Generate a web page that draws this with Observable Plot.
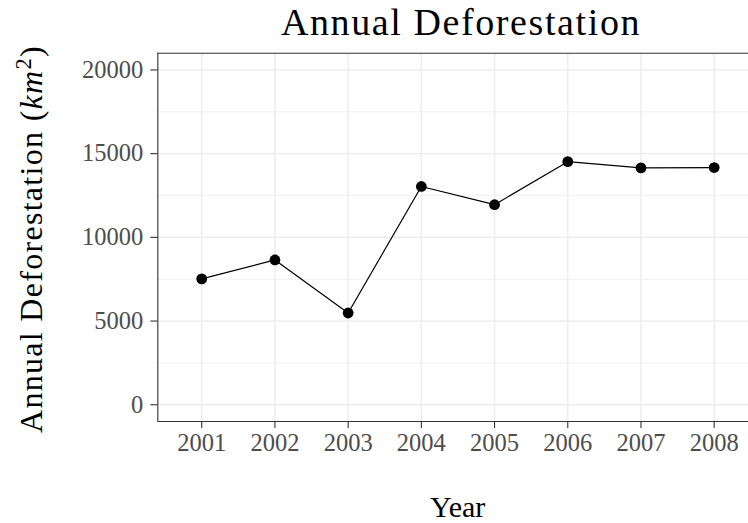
<!DOCTYPE html>
<html>
<head>
<meta charset="utf-8">
<script src="https://cdn.jsdelivr.net/npm/d3@7"></script>
<script src="https://cdn.jsdelivr.net/npm/@observablehq/plot@0.6"></script>
<style>
  html, body { margin: 0; padding: 0; background: #fff; overflow: hidden; }
  #wrap { position: relative; width: 748px; height: 523px; font-family: "Liberation Serif", serif; color: #000; }
  #title { position: absolute; top: 1px; left: 461px; transform: translateX(-50%); white-space: nowrap;
           font-size: 38px; line-height: 42px; letter-spacing: 1.6px; }
  #chart { position: absolute; top: 50px; left: 0; }
  #xlab { position: absolute; top: 491.5px; left: 457.7px; transform: translateX(-50%); white-space: nowrap;
          font-size: 30px; line-height: 30px; }
  #ylab { position: absolute; left: 31px; top: 239px; transform: translate(-50%, -50%) rotate(-90deg);
          white-space: nowrap; font-size: 32px; line-height: 32px; letter-spacing: 1.3px; }
  #ylab sup { font-size: 0.7em; line-height: 0; vertical-align: 0.5em; }
</style>
</head>
<body>
<div id="wrap">
  <div id="title">Annual Deforestation</div>
  <div id="chart"></div>
  <div id="ylab">Annual Deforestation (<i>km</i><sup>2</sup>)</div>
  <div id="xlab">Year</div>
</div>
<script>
// ---- data ----
const years = [2001, 2002, 2003, 2004, 2005, 2006, 2007, 2008];
const deforestation = [7520, 8650, 5480, 13040, 11950, 14520, 14150, 14170];
const yMajorTicks = [0, 5000, 10000, 15000, 20000];
const yMinorTicks = [2500, 7500, 12500, 17500];
const xDomain = [2000.4, 2008.6];
const yDomain = [-1000, 21000];

const data = years.map((year, i) => ({year, value: deforestation[i]}));

const W = 748, H = 473;
const mLeft = 157.3, mTop = 2.7, mBottom = 102;
const border = "#333333", tickText = "#4D4D4D", grid = "#EBEBEB";

const chart = Plot.plot({
  width: W,
  height: H,
  marginLeft: mLeft,
  marginRight: 0,
  marginTop: mTop,
  marginBottom: mBottom,
  style: {fontFamily: "'Liberation Serif', serif", fontSize: "24.5px", background: "white", overflow: "visible"},
  x: {domain: xDomain, range: [mLeft, 757.6], label: null},
  y: {domain: yDomain, range: [H - mBottom, mTop], label: null},
  marks: [
    Plot.gridY(yMinorTicks, {stroke: grid, strokeOpacity: 1, strokeWidth: 0.7}),
    Plot.gridY(yMajorTicks, {stroke: grid, strokeOpacity: 1, strokeWidth: 1.3}),
    Plot.gridX(years, {stroke: grid, strokeOpacity: 1, strokeWidth: 1.3}),
    Plot.line(data, {x: "year", y: "value", stroke: "black", strokeWidth: 1.2}),
    Plot.dot(data, {x: "year", y: "value", r: 5.4, fill: "black", stroke: "none"}),
    Plot.ruleY([yDomain[0], yDomain[1]], {stroke: border, strokeWidth: 1.1}),
    Plot.ruleX([xDomain[0]], {stroke: border, strokeWidth: 1.1}),
    Plot.axisX(years, {tickSize: 7, tickPadding: 5.5, tickFormat: d => String(d), stroke: border, fill: tickText, strokeWidth: 1.1, fontSize: 24.5, label: null}),
    Plot.axisY(yMajorTicks, {tickSize: 7, tickPadding: 7.5, tickFormat: d => String(d), stroke: border, fill: tickText, strokeWidth: 1.1, fontSize: 24.5, label: null})
  ]
});
document.getElementById("chart").appendChild(chart);
</script>
</body>
</html>
